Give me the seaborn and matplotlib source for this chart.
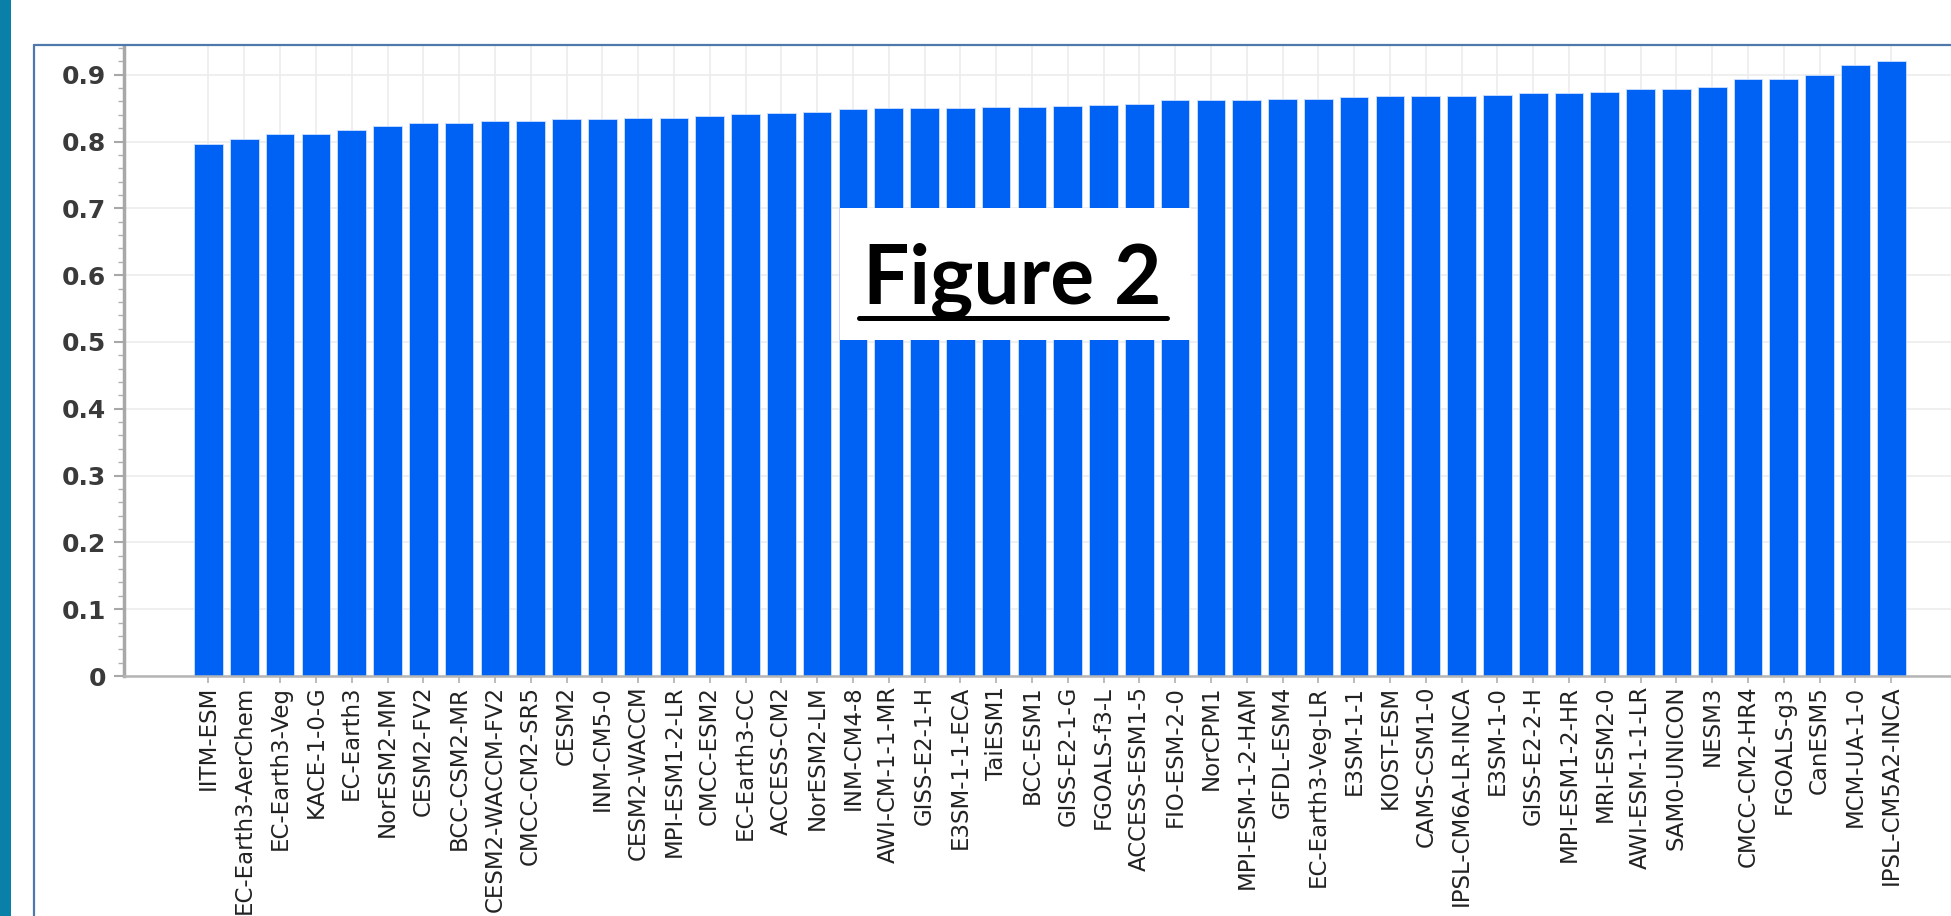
import matplotlib
matplotlib.use("Agg")
import matplotlib.pyplot as plt
import matplotlib.ticker as mticker
from matplotlib.patches import Rectangle
from matplotlib.lines import Line2D
import pandas as pd
import seaborn as sns

# model names, sorted by score (as in the figure)
models = [
    "IITM-ESM", "EC-Earth3-AerChem", "EC-Earth3-Veg", "KACE-1-0-G", "EC-Earth3",
    "NorESM2-MM", "CESM2-FV2", "BCC-CSM2-MR", "CESM2-WACCM-FV2", "CMCC-CM2-SR5",
    "CESM2", "INM-CM5-0", "CESM2-WACCM", "MPI-ESM1-2-LR", "CMCC-ESM2",
    "EC-Earth3-CC", "ACCESS-CM2", "NorESM2-LM", "INM-CM4-8", "AWI-CM-1-1-MR",
    "GISS-E2-1-H", "E3SM-1-1-ECA", "TaiESM1", "BCC-ESM1", "GISS-E2-1-G",
    "FGOALS-f3-L", "ACCESS-ESM1-5", "FIO-ESM-2-0", "NorCPM1", "MPI-ESM-1-2-HAM",
    "GFDL-ESM4", "EC-Earth3-Veg-LR", "E3SM-1-1", "KIOST-ESM", "CAMS-CSM1-0",
    "IPSL-CM6A-LR-INCA", "E3SM-1-0", "GISS-E2-2-H", "MPI-ESM1-2-HR", "MRI-ESM2-0",
    "AWI-ESM-1-1-LR", "SAM0-UNICON", "NESM3", "CMCC-CM2-HR4", "FGOALS-g3",
    "CanESM5", "MCM-UA-1-0", "IPSL-CM5A2-INCA",
]
scores = [
    0.797, 0.804, 0.812, 0.812, 0.817,
    0.823, 0.827, 0.827, 0.831, 0.831,
    0.833, 0.833, 0.835, 0.835, 0.838,
    0.841, 0.843, 0.844, 0.848, 0.850,
    0.850, 0.850, 0.851, 0.851, 0.853,
    0.854, 0.856, 0.862, 0.862, 0.862,
    0.863, 0.863, 0.867, 0.868, 0.868,
    0.868, 0.870, 0.873, 0.873, 0.874,
    0.879, 0.879, 0.881, 0.893, 0.893,
    0.900, 0.915, 0.920,
]
ytick_values = [0.0, 0.1, 0.2, 0.3, 0.4, 0.5, 0.6, 0.7, 0.8, 0.9]
ytick_labels = ["0", "0.1", "0.2", "0.3", "0.4", "0.5", "0.6", "0.7", "0.8", "0.9"]

df = pd.DataFrame({"model": models, "score": scores})

sns.set_theme(style="white")
plt.rcParams["font.family"] = ["Liberation Sans", "DejaVu Sans"]

W, H = 1951, 916
fig = plt.figure(figsize=(W / 100, H / 100), dpi=100)
fig.patch.set_facecolor("white")

# axes placed in pixel terms of the reference
left_px, top_px, bottom_px = 124, 46, 676
ax = fig.add_axes([left_px / W, 1 - bottom_px / H, 1 - left_px / W, (bottom_px - top_px) / H])

sns.barplot(data=df, x="model", y="score", order=models, color="#0062f5",
            saturation=1, width=0.8, edgecolor="#cfe0ff", linewidth=0.6, ax=ax)

ax.set_xlim(-2.36, 48.67)
ax.set_ylim(0, 0.943)
ax.set_xlabel("")
ax.set_ylabel("")

ax.set_yticks(ytick_values)
ax.set_yticklabels(ytick_labels)
ax.yaxis.set_minor_locator(mticker.MultipleLocator(0.02))

ax.grid(True, which="major", color="#ececec", linewidth=1.2)
ax.set_axisbelow(True)

for side in ["top", "right"]:
    ax.spines[side].set_visible(False)
ax.spines["left"].set_color("#a8a8a8")
ax.spines["left"].set_linewidth(2.5)
ax.spines["bottom"].set_color("#b5b5b5")
ax.spines["bottom"].set_linewidth(1.8)

ax.tick_params(axis="y", which="major", left=True, length=7, width=1.5,
               color="#a8a8a8", pad=6)
ax.tick_params(axis="y", which="minor", left=True, length=4, width=1.0, color="#b0b0b0")
ax.tick_params(axis="x", which="major", bottom=True, length=5, width=1.2,
               color="#b0b0b0", pad=2)
for lab in ax.get_yticklabels():
    lab.set_fontfamily(["DejaVu Sans"])
    lab.set_fontweight("bold")
    lab.set_fontsize(18)
    lab.set_color("#3a3a3a")
for lab in ax.get_xticklabels():
    lab.set_rotation(90)
    lab.set_fontfamily(["Liberation Sans Narrow", "DejaVu Sans"])
    lab.set_fontsize(16.5)
    lab.set_color("#222222")

# page decoration: teal strip and thin blue frame
fig.add_artist(Rectangle((0, 0), 11 / W, 1, transform=fig.transFigure,
                         facecolor="#0a80a8", edgecolor="none"))
fig.add_artist(Line2D([34 / W, 34 / W], [0, 1 - 45 / H], transform=fig.transFigure,
                      color="#4f78ad", linewidth=1.6))
fig.add_artist(Line2D([34 / W, 1], [1 - 45 / H, 1 - 45 / H], transform=fig.transFigure,
                      color="#4f78ad", linewidth=1.6))

# "Figure 2" label in a white box
fig.add_artist(Rectangle((840 / W, 1 - 340 / H), 351 / W, 132 / H, transform=fig.transFigure,
                         facecolor="white", edgecolor="none", zorder=5))
fig.text(863 / W, 1 - 303 / H, "Figure 2", fontsize=59, fontweight="bold",
         family=["Lato", "DejaVu Sans"], color="black", ha="left", va="baseline", zorder=6)
fig.add_artist(Line2D([859 / W, 1167 / W], [1 - 318 / H, 1 - 318 / H], transform=fig.transFigure,
                      color="black", linewidth=3.6, zorder=6))

fig.savefig("out.png", dpi=100)
